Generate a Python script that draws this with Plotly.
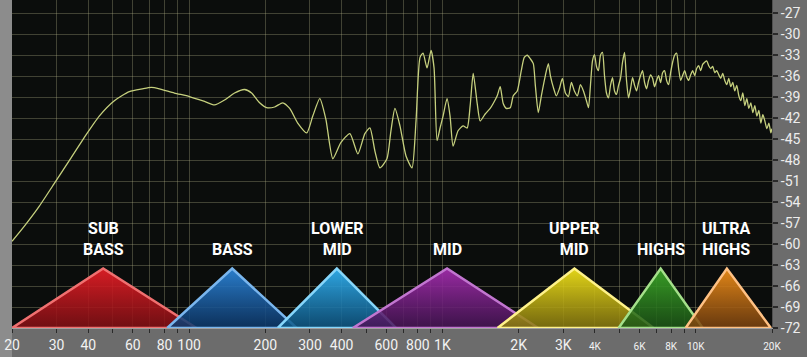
import plotly.graph_objects as go
import math

# ---------------- data ----------------
freq_hz = [20, 22.3, 25.6, 29.3, 33.6, 38.5, 44.2, 50.7, 58.1, 65.4, 71.0, 76.3, 87.5, 100.3, 115.1, 126.0,
           138.0, 151.2, 165.6, 176.5, 189.9, 202.4, 217.7, 234.2, 249.6, 268.5, 291.4, 307.8, 328.1, 346.5,
           369.4, 397.2, 431.2, 463.8, 494.3, 517.4, 541.5, 566.7, 604.0, 626.4, 649.6, 680.0, 718.3, 758.6,
           786.8, 815.9, 838.5, 869.6, 901.9, 926.9, 952.5, 979.0, 1006, 1043, 1072, 1102, 1153, 1207, 1252,
           1287, 1323, 1372, 1410, 1475, 1544, 1587, 1646, 1691, 1738, 1786, 1853, 1904, 1975, 2048, 2105,
           2163, 2223, 2285, 2327, 2391, 2458, 2549, 2619, 2668,
           2741, 2817, 2895, 2975, 3058, 3143, 3230, 3319, 3411, 3506, 3603, 3703, 3772, 3841, 3912, 3984,
           4057, 4130, 4207, 4284, 4363, 4443, 4525, 4608, 4694, 4780, 4868, 4957, 5047, 5140, 5235, 5331,
           5429, 5529, 5630, 5734, 5839, 5946, 6056, 6166, 6281, 6396, 6513, 6633, 6755, 6879, 7005, 7135,
           7266, 7399, 7535, 7674, 7815, 7958, 8105, 8254, 8405, 8560, 8717, 8877, 9040, 9207, 9376, 9549,
           9725, 9903, 10085, 10270, 10460, 10650, 10850, 11050, 11250, 11460, 11670, 11890, 12100, 12330,
           12550, 12780, 13020, 13260, 13500, 13750, 14000, 14260, 14520, 14790, 15060, 15340, 15620, 15910,
           16200, 16500, 16800, 17110, 17430, 17750, 18070, 18400, 18740, 19090, 19440, 19800, 19980]
level_db = [-59.6, -57.5, -54.6, -51.4, -48.1, -44.8, -41.7, -39.5, -38.2, -37.8, -37.6, -37.8, -38.4, -38.9,
            -39.6, -40.1, -39.4, -38.4, -37.9, -38.4, -39.8, -40.5, -40.4, -39.8, -40.6, -42.7, -44.1, -41.7,
            -39.2, -42.1, -47.8, -45.5, -44.2, -47.1, -44.2, -43.4, -46.7, -49.1, -47.8, -43.8, -40.6, -43.1,
            -47.4, -49.1, -42.4, -33.3, -32.7, -34.8, -32.3, -34.8, -45.2, -43.4, -41.7, -39.2, -41.7, -46.0,
            -43.8, -43.1, -43.4, -40.2, -35.6, -39.9, -42.4, -41.4, -40.6, -39.9, -38.8, -37.5, -39.9, -40.6,
            -40.5, -38.8, -38.1, -35.2, -33.3, -33.0, -33.5, -34.2, -37.3, -41.2, -38.8, -35.9, -34.2, -35.9,
            -37.6, -38.8, -37.8, -36.3, -38.4, -38.9, -36.9, -38.1, -38.8, -37.2, -38.1, -39.5, -40.5, -37.3,
            -33.8, -32.9, -34.6, -35.2, -33.0, -32.6, -35.9, -38.4, -39.1, -37.3, -36.2, -38.1, -38.6, -37.3,
            -36.3, -34.0, -32.6, -36.6, -39.1, -37.8, -36.2, -37.3, -38.1, -36.9, -35.9, -35.2, -36.9, -37.8,
            -36.6, -35.8, -36.3, -37.5, -36.6, -35.9, -36.9, -35.5, -35.2, -36.6, -37.2, -35.5, -34.0, -33.0,
            -32.7, -34.9, -36.6, -35.9, -35.2, -36.1, -36.6, -35.8, -35.2, -35.9, -34.9, -34.5, -35.2, -34.3,
            -34.0, -33.8, -34.5, -34.9, -34.6, -35.5, -35.2, -35.8, -36.3, -35.6, -36.6, -37.2, -36.3, -37.5,
            -36.9, -38.1, -37.3, -38.8, -39.5, -38.4, -40.2, -39.2, -40.6, -39.8, -41.2, -40.2, -41.7, -40.9,
            -42.7, -41.5, -42.4, -43.5, -42.7, -44.1, -43.5]

band_labels = ["SUB<br>BASS", "BASS", "LOWER<br>MID", "MID", "UPPER<br>MID", "HIGHS", "ULTRA<br>HIGHS"]
band_low_hz = [20, 82, 224, 443, 1650, 4960, 9120]
band_peak_hz = [45.8, 148, 383, 1043, 3320, 7270, 13270]
band_high_hz = [107, 266, 656, 2390, 6820, 10660, 19800]
band_peak_db = -63.5
band_base_db = -72

x_tick_vals = [20, 30, 40, 50, 60, 70, 80, 90, 100, 200, 300, 400, 500, 600, 700, 800, 900,
               1000, 2000, 3000, 4000, 5000, 6000, 7000, 8000, 9000, 10000, 20000]
x_tick_text = ["20", "30", "40", "", "60", "", "80", "", "100", "200", "300", "400", "", "600", "", "800", "",
               "1K", "2K", "3K", "4K", "", "6K", "", "8K", "", "10K", "20K"]
x_small_labels = ["4K", "6K", "8K", "10K", "20K"]
y_tick_vals = [-72, -69, -66, -63, -60, -57, -54, -51, -48, -45, -42, -39, -36, -33, -30, -27]

# ---------------- styles ----------------
band_top_colors = ["rgba(232,30,38,0.92)", "rgba(45,135,220,0.92)", "rgba(50,180,245,0.92)",
                   "rgba(165,45,175,0.92)", "rgba(245,230,25,0.92)", "rgba(60,170,40,0.92)",
                   "rgba(245,145,25,0.92)"]
band_bottom_colors = ["rgba(130,15,20,0.85)", "rgba(12,55,105,0.85)", "rgba(14,85,130,0.85)",
                      "rgba(70,20,85,0.85)", "rgba(135,120,15,0.85)", "rgba(28,85,22,0.85)",
                      "rgba(120,65,15,0.85)"]
band_edge_colors = ["#f07070", "#7ab6ee", "#86d6fb", "#c276d0", "#fff28a", "#a4e08a", "#ffc184"]

fig = go.Figure()

fig.add_trace(go.Scatter(
    x=freq_hz, y=level_db, mode="lines",
    line=dict(color="#c6d07e", width=1.3, shape="spline", smoothing=0.6),
    hoverinfo="skip"))

for i in range(len(band_labels)):
    xs = [band_low_hz[i], band_peak_hz[i], band_high_hz[i], band_low_hz[i]]
    ys = [band_base_db, band_peak_db, band_base_db, band_base_db]
    fig.add_trace(go.Scatter(
        x=xs, y=ys, mode="lines", fill="toself",
        fillgradient=dict(type="vertical",
                          colorscale=[[0, band_bottom_colors[i]], [1, band_top_colors[i]]]),
        line=dict(color=band_edge_colors[i], width=2.5),
        hoverinfo="skip"))
    two_lines = "<br>" in band_labels[i]
    fig.add_annotation(x=math.log10(band_peak_hz[i]), y=(-59.3 if two_lines else -60.8),
                       text="<b>%s</b>" % band_labels[i].replace("<br>", "</b><br><b>"),
                       showarrow=False, xanchor="center", yanchor="middle", align="center",
                       font=dict(family="Roboto", size=16, color="#ffffff"))

tick_text_fmt = []
for t in x_tick_text:
    if t in x_small_labels:
        tick_text_fmt.append("<span style='font-size:10px'>%s</span>" % t)
    else:
        tick_text_fmt.append(t)

grid_col = "rgba(175,175,135,0.33)"

fig.update_layout(
    width=807, height=357,
    margin=dict(l=12, r=35, t=0, b=29),
    paper_bgcolor="#6c6c6c",
    plot_bgcolor="#0b0d0c",
    showlegend=False,
    xaxis=dict(type="log", range=[math.log10(20), math.log10(20000)],
               tickvals=x_tick_vals, ticktext=tick_text_fmt,
               ticks="outside", ticklen=4, tickcolor="#2a2a2a", tickwidth=1,
               tickfont=dict(family="Roboto", size=14, color="#f2f2f2"),
               showgrid=True, gridcolor=grid_col, gridwidth=1,
               showline=True, linecolor="#a0a0a0", linewidth=1,
               zeroline=False, fixedrange=True),
    yaxis=dict(range=[-72, -25.1], side="right",
               tickvals=y_tick_vals, ticktext=[str(v) for v in y_tick_vals],
               ticks="outside", ticklen=5, tickcolor="#2a2a2a", tickwidth=2,
               tickfont=dict(family="Roboto", size=14, color="#ededed"),
               showgrid=True, gridcolor=grid_col, gridwidth=1,
               showline=True, linecolor="#505050", linewidth=1,
               zeroline=False, fixedrange=True),
    shapes=[dict(type="rect", xref="paper", yref="paper",
                 x0=-12 / 760, x1=0, y0=-29 / 328, y1=1,
                 fillcolor="#8c8c8c", line=dict(width=0), layer="below")],
)

fig.write_html("out.html")
